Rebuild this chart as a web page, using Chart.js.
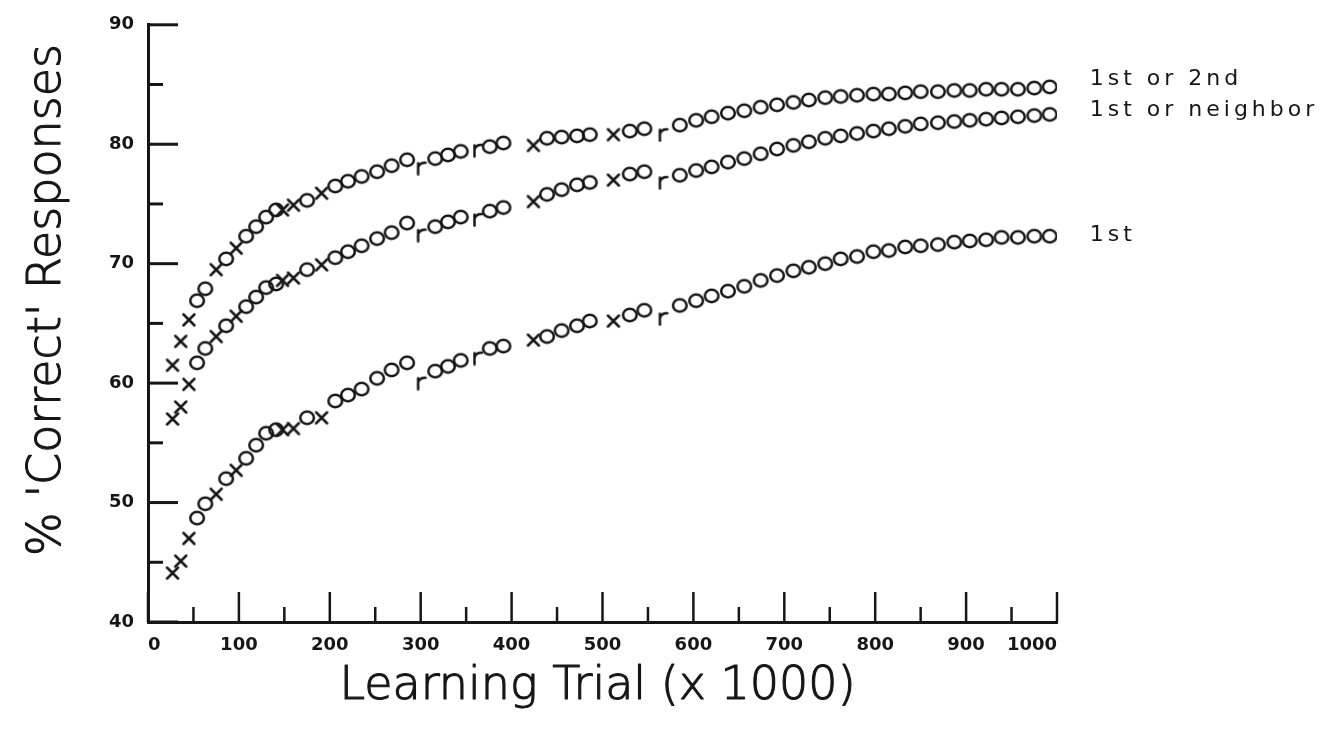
<!DOCTYPE html>
<html><head><meta charset="utf-8">
<script src="https://cdn.jsdelivr.net/npm/chart.js@4.4.1/dist/chart.umd.min.js"></script>
<style>html,body{margin:0;padding:0;background:#fff;}#wrap{width:1341px;height:731px;}</style>
</head><body><div id="wrap"><canvas id="c" width="1341" height="731"></canvas></div>
<script>
// ---- data (learning trial in thousands, % correct) ----
const trials = [27,36,45,54,63,75,86,97,108,119,130,141,148,160,175,191,206,220,235,252,268,285,
  301,316,330,344,363,376,391,424,439,455,472,486,512,530,546,567,
  585,603,620,638,656,674,692,710,727,745,762,780,798,815,833,850,869,887,904,922,939,957,975,992];
const markers = ['x','x','x','o','o','x','o','x','o','o','o','o','x','x','o','x','o','o','o','o','o','o',
  'r','o','o','o','r','o','o','x','o','o','o','o','x','o','o','r',
  'o','o','o','o','o','o','o','o','o','o','o','o','o','o','o','o','o','o','o','o','o','o','o','o'];
const firstOr2nd = [61.5,63.5,65.3,66.9,67.9,69.5,70.4,71.3,72.3,73.1,73.9,74.5,74.5,74.9,75.3,75.9,76.5,76.9,77.3,77.7,78.2,78.7,
  78.2,78.8,79.1,79.4,79.7,79.8,80.1,79.9,80.5,80.6,80.7,80.8,80.8,81.1,81.3,81.0,
  81.6,82.0,82.3,82.6,82.8,83.1,83.3,83.5,83.7,83.9,84.0,84.1,84.2,84.2,84.3,84.4,84.4,84.5,84.5,84.6,84.6,84.6,84.7,84.8];
const firstOrNeighbor = [57.0,58.0,59.9,61.7,62.9,63.9,64.8,65.6,66.4,67.2,68.0,68.3,68.6,68.8,69.5,69.9,70.5,71.0,71.5,72.1,72.6,73.4,
  72.6,73.1,73.5,73.9,73.9,74.4,74.7,75.2,75.8,76.2,76.6,76.8,77.0,77.5,77.7,77.0,
  77.4,77.8,78.1,78.5,78.8,79.2,79.6,79.9,80.2,80.5,80.7,80.9,81.1,81.3,81.5,81.7,81.8,81.9,82.0,82.1,82.2,82.3,82.4,82.5];
const firstOnly = [44.1,45.1,47.0,48.7,49.9,50.7,52.0,52.7,53.7,54.8,55.8,56.1,56.1,56.2,57.1,57.1,58.5,59.0,59.5,60.4,61.1,61.7,
  60.2,61.0,61.4,61.9,62.3,62.9,63.1,63.6,63.9,64.4,64.8,65.2,65.2,65.7,66.1,65.6,
  66.5,66.9,67.3,67.7,68.1,68.6,69.0,69.4,69.7,70.0,70.4,70.6,71.0,71.1,71.4,71.5,71.6,71.8,71.9,72.0,72.2,72.2,72.3,72.3];
const seriesNames = ['1st or 2nd','1st or neighbor','1st'];
const xTickValues = [0,100,200,300,400,500,600,700,800,900,1000];
const yTickValues = [40,50,60,70,80,90];
const xMinorTicks = [50,150,250,350,450,550,650,750,850,950];
const yMinorTicks = [45,55,65,75,85];
const xTitle = 'Learning Trial (x 1000)';
const yTitle = "% 'Correct' Responses";

// ---- styles ----
const INK = '#161616';
const FAM = '"DejaVu Sans", sans-serif';
function glyph(kind){
  const c = document.createElement('canvas');
  c.width = 20; c.height = 20;
  const g = c.getContext('2d');
  g.strokeStyle = INK; g.lineWidth = 2.5; g.lineCap = 'round';
  g.beginPath();
  if (kind === 'o') { g.ellipse(10,10,6.8,6.2,0,0,Math.PI*2); }
  else if (kind === 'x') { g.moveTo(4.5,4.5); g.lineTo(15.5,15.5); g.moveTo(15.5,4.5); g.lineTo(4.5,15.5); }
  else { g.moveTo(6.5,7.5); g.lineTo(6.5,18.5); g.moveTo(6.5,11.5); g.quadraticCurveTo(8.5,6.5,14,7); }
  g.stroke();
  return c;
}
const glyphs = {o: glyph('o'), x: glyph('x'), r: glyph('r')};
const labelDy = [-8, -4, -1];

const tickMarks = {
  id: 'tickMarks',
  afterDraw(chart){
    const {ctx, scales:{x, y}} = chart;
    const x0 = x.getPixelForValue(0), y0 = y.getPixelForValue(40);
    ctx.save(); ctx.strokeStyle = INK; ctx.lineCap = 'butt';
    ctx.lineWidth = 3;
    yTickValues.forEach(v => { const p = y.getPixelForValue(v); ctx.beginPath(); ctx.moveTo(x0, p); ctx.lineTo(x0 + 30, p); ctx.stroke(); });
    yMinorTicks.forEach(v => { const p = y.getPixelForValue(v); ctx.beginPath(); ctx.moveTo(x0, p); ctx.lineTo(x0 + 15, p); ctx.stroke(); });
    ctx.lineWidth = 2.5;
    xTickValues.forEach(v => { const p = x.getPixelForValue(v); ctx.beginPath(); ctx.moveTo(p, y0); ctx.lineTo(p, y0 - 30); ctx.stroke(); });
    xMinorTicks.forEach(v => { const p = x.getPixelForValue(v); ctx.beginPath(); ctx.moveTo(p, y0); ctx.lineTo(p, y0 - 15); ctx.stroke(); });
    // axis titles
    ctx.fillStyle = INK; ctx.lineWidth = 1.1; ctx.lineJoin = 'round';
    ctx.font = '200 46px ' + FAM;
    ctx.textAlign = 'center'; ctx.textBaseline = 'alphabetic';
    const cx = (x.left + x.right) / 2 - 5;
    ctx.fillText(xTitle, cx, 699); ctx.strokeText(xTitle, cx, 699);
    ctx.translate(60, 300); ctx.rotate(-Math.PI / 2);
    ctx.fillText(yTitle, 0, 0); ctx.strokeText(yTitle, 0, 0);
    ctx.restore();
  }
};
const endLabels = {
  id: 'endLabels',
  afterDatasetsDraw(chart){
    const ctx = chart.ctx;
    ctx.save();
    ctx.fillStyle = INK; ctx.font = '22px ' + FAM; ctx.textBaseline = 'middle'; ctx.textAlign = 'left';
    try { ctx.letterSpacing = '4px'; } catch(e){}
    chart.data.datasets.forEach((ds, i) => {
      const meta = chart.getDatasetMeta(i);
      const last = meta.data[meta.data.length - 1];
      ctx.fillText(ds.label, last.x + 40, last.y + labelDy[i]);
    });
    ctx.restore();
  }
};

function makeDataset(label, values){
  return {
    label,
    data: trials.map((t, i) => ({x: t, y: values[i]})),
    showLine: false,
    pointRadius: 7,
    pointStyle: (c) => glyphs[markers[c.dataIndex]] || glyphs.o,
    borderColor: INK,
    backgroundColor: INK
  };
}

new Chart(document.getElementById('c'), {
  type: 'scatter',
  data: { datasets: [
    makeDataset(seriesNames[0], firstOr2nd),
    makeDataset(seriesNames[1], firstOrNeighbor),
    makeDataset(seriesNames[2], firstOnly)
  ]},
  options: {
    responsive: false, animation: false, devicePixelRatio: 1,
    layout: { padding: { top: 18, right: 284, left: 0, bottom: 0 } },
    plugins: { legend: { display: false }, tooltip: { enabled: false } },
    scales: {
      x: {
        type: 'linear', min: 0, max: 1000,
        afterBuildTicks: s => { s.ticks = xTickValues.map(v => ({value: v})); },
        afterFit: s => { s.height = 109; },
        grid: { display: false, drawTicks: false },
        border: { display: true, width: 3, color: INK },
        ticks: { align: 'inner', padding: 13, maxRotation: 0, autoSkip: false, color: INK,
                 font: { family: FAM, size: 18, weight: 'bold' }, callback: v => String(v) },
        title: { display: false }
      },
      y: {
        type: 'linear', min: 40, max: 90,
        afterBuildTicks: s => { s.ticks = yTickValues.map(v => ({value: v})); },
        afterFit: s => { s.width = 148; },
        grid: { display: false, drawTicks: false },
        border: { display: true, width: 3, color: INK },
        ticks: { padding: 14, color: INK, font: { family: FAM, size: 18, weight: 'bold' }, callback: v => String(v) },
        title: { display: false }
      }
    }
  },
  plugins: [tickMarks, endLabels]
});
</script>
</body></html>
